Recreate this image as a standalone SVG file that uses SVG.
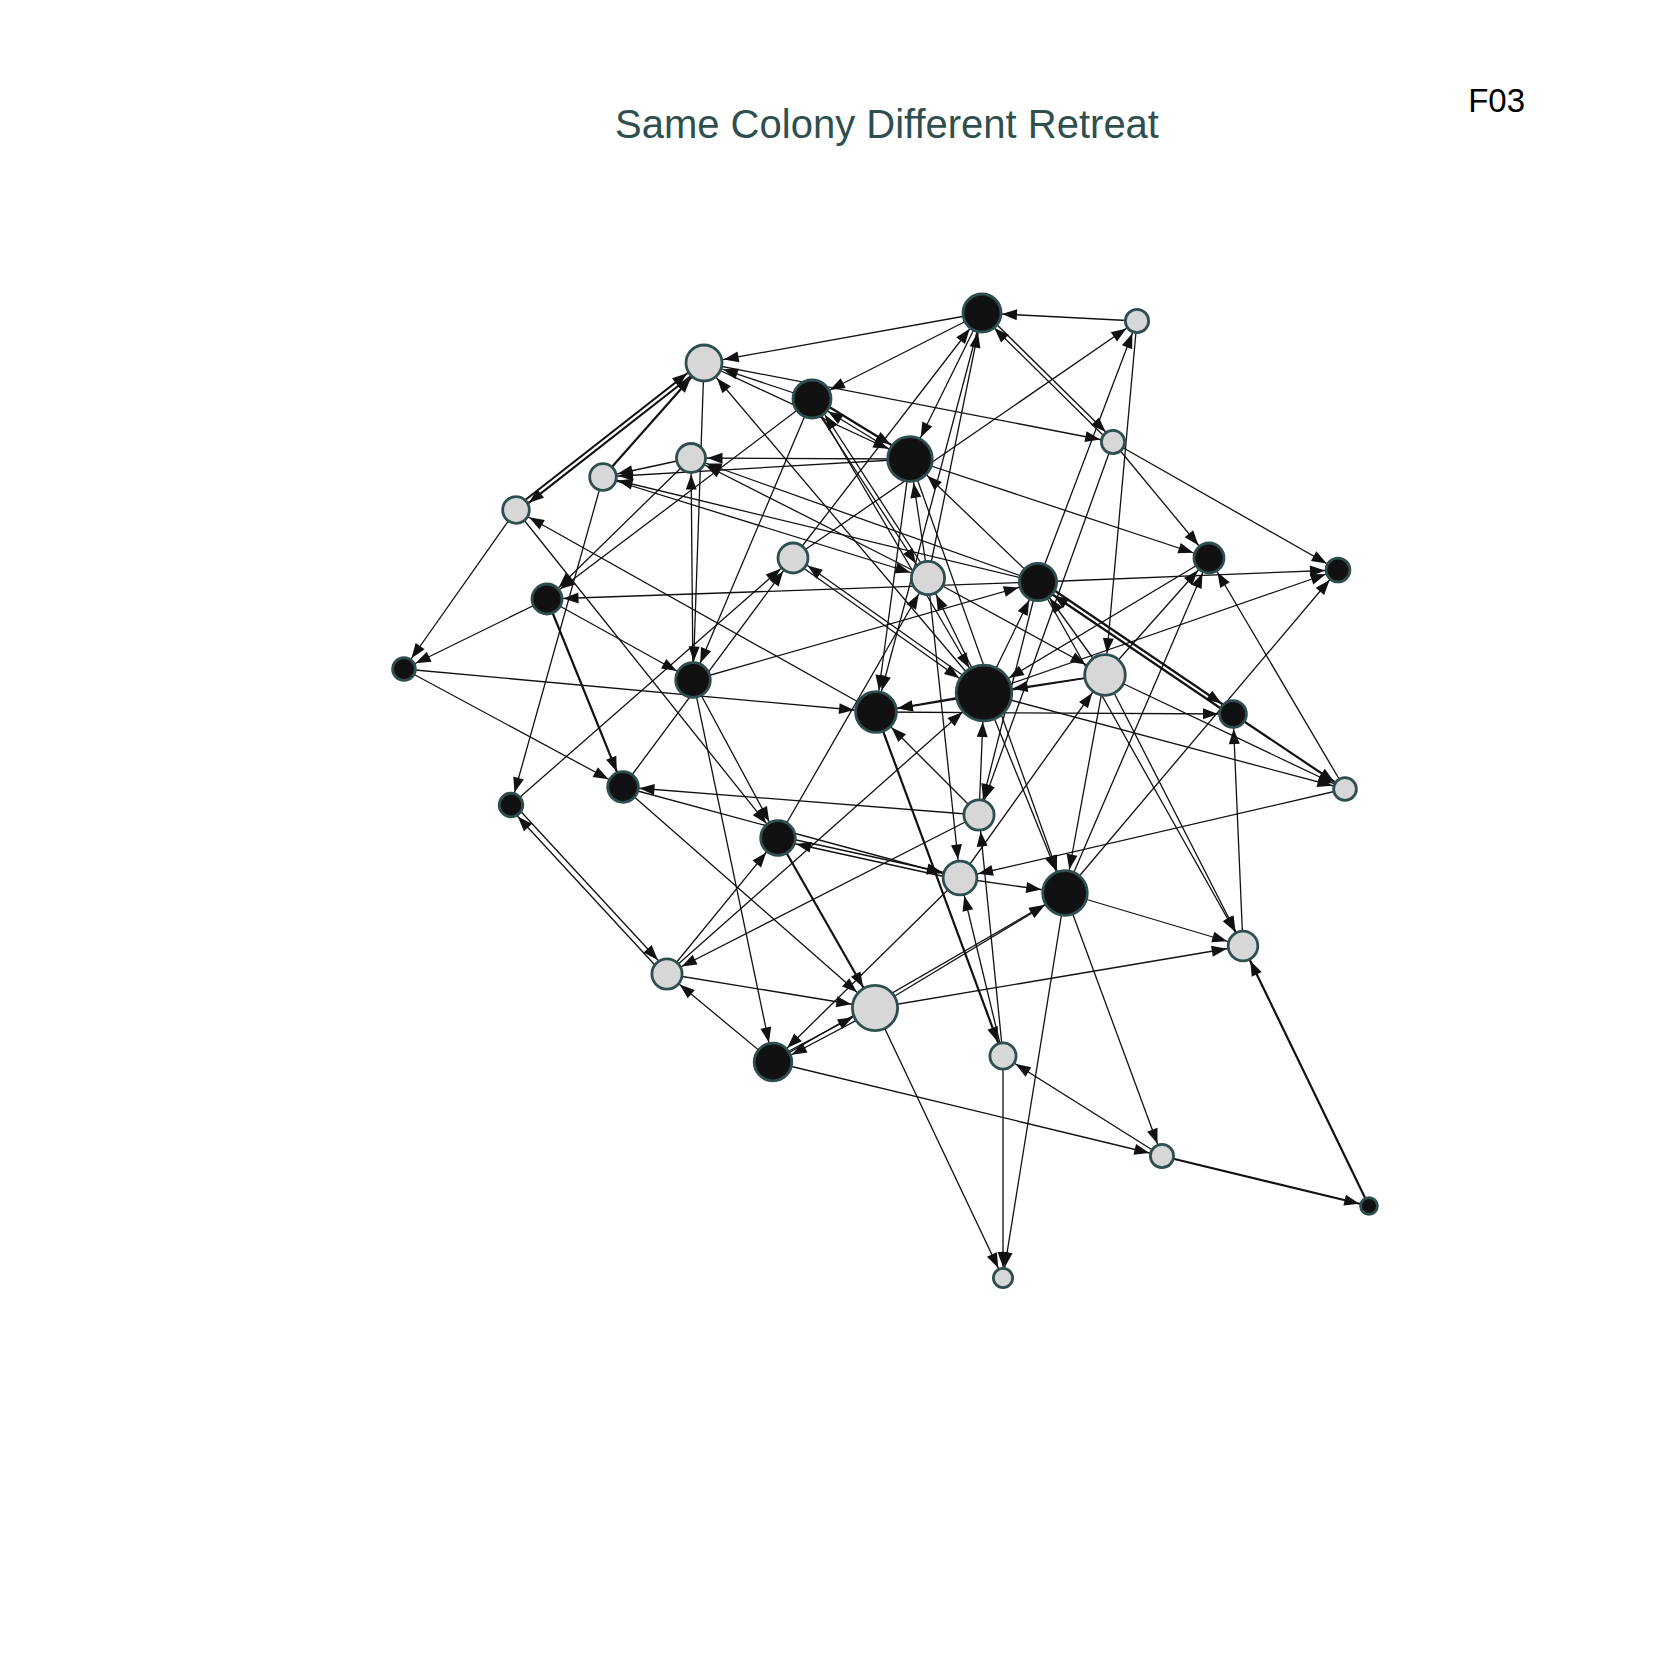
<svg xmlns="http://www.w3.org/2000/svg" width="1653" height="1653" viewBox="0 0 1653 1653">
<style>
.e{stroke:#111;stroke-width:1.3;fill:none}
.k{stroke-width:2.2}
.nd circle{stroke:#2f4f4f;stroke-width:2.8}
.d{fill:#111}
.l{fill:#d7d7d7}
.t{font-family:"Liberation Sans",Arial,sans-serif}
.ah{fill:#111}
</style>
<defs>
<marker id="m10" markerUnits="userSpaceOnUse" markerWidth="15" markerHeight="11" refX="25" refY="5.5" orient="auto" overflow="visible"><path class="ah" d="M0,0L15,5.5L0,11z"/></marker>
<marker id="m11" markerUnits="userSpaceOnUse" markerWidth="15" markerHeight="11" refX="26" refY="5.5" orient="auto" overflow="visible"><path class="ah" d="M0,0L15,5.5L0,11z"/></marker>
<marker id="m13" markerUnits="userSpaceOnUse" markerWidth="15" markerHeight="11" refX="28" refY="5.5" orient="auto" overflow="visible"><path class="ah" d="M0,0L15,5.5L0,11z"/></marker>
<marker id="m15" markerUnits="userSpaceOnUse" markerWidth="15" markerHeight="11" refX="30" refY="5.5" orient="auto" overflow="visible"><path class="ah" d="M0,0L15,5.5L0,11z"/></marker>
<marker id="m16" markerUnits="userSpaceOnUse" markerWidth="15" markerHeight="11" refX="31.5" refY="5.5" orient="auto" overflow="visible"><path class="ah" d="M0,0L15,5.5L0,11z"/></marker>
<marker id="m18" markerUnits="userSpaceOnUse" markerWidth="15" markerHeight="11" refX="33.5" refY="5.5" orient="auto" overflow="visible"><path class="ah" d="M0,0L15,5.5L0,11z"/></marker>
<marker id="m20" markerUnits="userSpaceOnUse" markerWidth="15" markerHeight="11" refX="35" refY="5.5" orient="auto" overflow="visible"><path class="ah" d="M0,0L15,5.5L0,11z"/></marker>
<marker id="m22" markerUnits="userSpaceOnUse" markerWidth="15" markerHeight="11" refX="37" refY="5.5" orient="auto" overflow="visible"><path class="ah" d="M0,0L15,5.5L0,11z"/></marker>
<marker id="m24" markerUnits="userSpaceOnUse" markerWidth="15" markerHeight="11" refX="39" refY="5.5" orient="auto" overflow="visible"><path class="ah" d="M0,0L15,5.5L0,11z"/></marker>
<marker id="m29" markerUnits="userSpaceOnUse" markerWidth="15" markerHeight="11" refX="44" refY="5.5" orient="auto" overflow="visible"><path class="ah" d="M0,0L15,5.5L0,11z"/></marker>
</defs>
<rect width="1653" height="1653" fill="#fff"/>
<text class="t" x="887" y="138" font-size="40" fill="#2f4f4f" text-anchor="middle">Same Colony Different Retreat</text>
<text class="t" x="1525" y="112" font-size="33" fill="#000" text-anchor="end">F03</text>
<g id="edges">
<line class="e" x1="1137" y1="321" x2="982" y2="313" marker-end="url(#m20)"/>
<line class="e" x1="982" y1="313" x2="704" y2="363" marker-end="url(#m20)"/>
<line class="e" x1="982" y1="313" x2="812" y2="399" marker-end="url(#m20)"/>
<line class="e" x1="982" y1="313" x2="910" y2="459" marker-end="url(#m24)"/>
<line class="e" x1="984" y1="312" x2="1115" y2="441" marker-end="url(#m13)"/>
<line class="e" x1="1111" y1="443" x2="980" y2="314" marker-end="url(#m20)"/>
<line class="e" x1="793" y1="558" x2="982" y2="313" marker-end="url(#m20)"/>
<line class="e" x1="928" y1="578" x2="982" y2="313" marker-end="url(#m20)"/>
<line class="e" x1="793" y1="558" x2="1137" y2="321" marker-end="url(#m13)"/>
<line class="e" x1="1038" y1="582" x2="1137" y2="321" marker-end="url(#m13)"/>
<line class="e" x1="1137" y1="321" x2="1105" y2="675" marker-end="url(#m22)"/>
<line class="e k" x1="705" y1="365" x2="517" y2="512" marker-end="url(#m15)"/>
<line class="e k" x1="515" y1="508" x2="703" y2="361" marker-end="url(#m20)"/>
<line class="e k" x1="603" y1="477" x2="704" y2="363" marker-end="url(#m20)"/>
<line class="e" x1="812" y1="399" x2="704" y2="363" marker-end="url(#m20)"/>
<line class="e" x1="984" y1="693" x2="704" y2="363" marker-end="url(#m20)"/>
<line class="e" x1="704" y1="363" x2="1113" y2="442" marker-end="url(#m13)"/>
<line class="e" x1="704" y1="363" x2="910" y2="459" marker-end="url(#m24)"/>
<line class="e" x1="704" y1="363" x2="693" y2="680" marker-end="url(#m18)"/>
<line class="e" x1="693" y1="680" x2="691" y2="458" marker-end="url(#m16)"/>
<line class="e" x1="910" y1="459" x2="691" y2="458" marker-end="url(#m16)"/>
<line class="e" x1="910" y1="459" x2="603" y2="477" marker-end="url(#m15)"/>
<line class="e" x1="691" y1="458" x2="603" y2="477" marker-end="url(#m15)"/>
<line class="e" x1="1038" y1="582" x2="603" y2="477" marker-end="url(#m15)"/>
<line class="e" x1="1038" y1="582" x2="691" y2="458" marker-end="url(#m16)"/>
<line class="e" x1="928" y1="578" x2="691" y2="458" marker-end="url(#m16)"/>
<line class="e" x1="603" y1="477" x2="928" y2="578" marker-end="url(#m18)"/>
<line class="e k" x1="813" y1="397" x2="911" y2="457" marker-end="url(#m24)"/>
<line class="e" x1="909" y1="461" x2="811" y2="401" marker-end="url(#m20)"/>
<line class="e" x1="812" y1="399" x2="547" y2="599" marker-end="url(#m16)"/>
<line class="e" x1="691" y1="458" x2="547" y2="599" marker-end="url(#m16)"/>
<line class="e" x1="812" y1="399" x2="693" y2="680" marker-end="url(#m18)"/>
<line class="e" x1="810" y1="400" x2="926" y2="579" marker-end="url(#m18)"/>
<line class="e" x1="930" y1="577" x2="814" y2="398" marker-end="url(#m20)"/>
<line class="e" x1="812" y1="399" x2="984" y2="693" marker-end="url(#m29)"/>
<line class="e" x1="792" y1="560" x2="983" y2="695" marker-end="url(#m29)"/>
<line class="e" x1="985" y1="691" x2="794" y2="556" marker-end="url(#m16)"/>
<line class="e" x1="603" y1="477" x2="511" y2="805" marker-end="url(#m13)"/>
<line class="e" x1="516" y1="510" x2="404" y2="669" marker-end="url(#m13)"/>
<line class="e" x1="547" y1="599" x2="404" y2="669" marker-end="url(#m13)"/>
<line class="e k" x1="547" y1="599" x2="623" y2="787" marker-end="url(#m16)"/>
<line class="e" x1="547" y1="599" x2="693" y2="680" marker-end="url(#m18)"/>
<line class="e" x1="1038" y1="582" x2="547" y2="599" marker-end="url(#m16)"/>
<line class="e" x1="876" y1="712" x2="516" y2="510" marker-end="url(#m15)"/>
<line class="e" x1="516" y1="510" x2="778" y2="838" marker-end="url(#m18)"/>
<line class="e" x1="404" y1="669" x2="876" y2="712" marker-end="url(#m22)"/>
<line class="e" x1="404" y1="669" x2="623" y2="787" marker-end="url(#m16)"/>
<line class="e" x1="513" y1="803" x2="669" y2="972" marker-end="url(#m16)"/>
<line class="e" x1="665" y1="976" x2="509" y2="807" marker-end="url(#m13)"/>
<line class="e" x1="511" y1="805" x2="793" y2="558" marker-end="url(#m16)"/>
<line class="e" x1="693" y1="680" x2="773" y2="1062" marker-end="url(#m20)"/>
<line class="e" x1="693" y1="680" x2="778" y2="838" marker-end="url(#m18)"/>
<line class="e" x1="693" y1="680" x2="1038" y2="582" marker-end="url(#m20)"/>
<line class="e" x1="623" y1="787" x2="793" y2="558" marker-end="url(#m16)"/>
<line class="e" x1="623" y1="787" x2="875" y2="1008" marker-end="url(#m24)"/>
<line class="e" x1="979" y1="815" x2="623" y2="787" marker-end="url(#m16)"/>
<line class="e" x1="623" y1="787" x2="960" y2="878" marker-end="url(#m18)"/>
<line class="e" x1="910" y1="459" x2="1209" y2="558" marker-end="url(#m16)"/>
<line class="e" x1="1113" y1="442" x2="1209" y2="558" marker-end="url(#m16)"/>
<line class="e" x1="1105" y1="675" x2="1209" y2="558" marker-end="url(#m16)"/>
<line class="e" x1="1065" y1="893" x2="1209" y2="558" marker-end="url(#m16)"/>
<line class="e" x1="1345" y1="789" x2="1209" y2="558" marker-end="url(#m16)"/>
<line class="e" x1="1209" y1="558" x2="984" y2="693" marker-end="url(#m29)"/>
<line class="e" x1="1038" y1="582" x2="1338" y2="570" marker-end="url(#m13)"/>
<line class="e" x1="1113" y1="442" x2="1338" y2="570" marker-end="url(#m13)"/>
<line class="e" x1="1065" y1="893" x2="1338" y2="570" marker-end="url(#m13)"/>
<line class="e" x1="984" y1="693" x2="1338" y2="570" marker-end="url(#m13)"/>
<line class="e k" x1="1039" y1="580" x2="1234" y2="712" marker-end="url(#m15)"/>
<line class="e k" x1="1232" y1="716" x2="1037" y2="584" marker-end="url(#m20)"/>
<line class="e" x1="1105" y1="675" x2="1038" y2="582" marker-end="url(#m20)"/>
<line class="e" x1="1038" y1="582" x2="910" y2="459" marker-end="url(#m24)"/>
<line class="e" x1="928" y1="578" x2="910" y2="459" marker-end="url(#m24)"/>
<line class="e" x1="1038" y1="582" x2="979" y2="815" marker-end="url(#m16)"/>
<line class="e" x1="984" y1="693" x2="1038" y2="582" marker-end="url(#m20)"/>
<line class="e" x1="928" y1="578" x2="1105" y2="675" marker-end="url(#m22)"/>
<line class="e" x1="984" y1="693" x2="928" y2="578" marker-end="url(#m18)"/>
<line class="e" x1="1105" y1="675" x2="984" y2="693" marker-end="url(#m29)"/>
<line class="e" x1="984" y1="693" x2="876" y2="712" marker-end="url(#m22)"/>
<line class="e" x1="1105" y1="675" x2="876" y2="712" marker-end="url(#m22)"/>
<line class="e" x1="910" y1="459" x2="876" y2="712" marker-end="url(#m22)"/>
<line class="e" x1="982" y1="313" x2="876" y2="712" marker-end="url(#m22)"/>
<line class="e" x1="876" y1="712" x2="1233" y2="714" marker-end="url(#m15)"/>
<line class="e" x1="979" y1="815" x2="984" y2="693" marker-end="url(#m29)"/>
<line class="e" x1="979" y1="815" x2="876" y2="712" marker-end="url(#m22)"/>
<line class="e" x1="1003" y1="1056" x2="979" y2="815" marker-end="url(#m16)"/>
<line class="e" x1="1003" y1="1056" x2="960" y2="878" marker-end="url(#m18)"/>
<line class="e k" x1="876" y1="712" x2="1003" y2="1056" marker-end="url(#m15)"/>
<line class="e" x1="1003" y1="1056" x2="1003" y2="1278" marker-end="url(#m11)"/>
<line class="e" x1="875" y1="1008" x2="1003" y2="1278" marker-end="url(#m11)"/>
<line class="e" x1="1065" y1="893" x2="1003" y2="1278" marker-end="url(#m11)"/>
<line class="e" x1="1065" y1="893" x2="1162" y2="1156" marker-end="url(#m13)"/>
<line class="e" x1="773" y1="1062" x2="1162" y2="1156" marker-end="url(#m13)"/>
<line class="e" x1="1162" y1="1156" x2="1003" y2="1056" marker-end="url(#m15)"/>
<line class="e k" x1="1162" y1="1156" x2="1369" y2="1206" marker-end="url(#m10)"/>
<line class="e k" x1="1369" y1="1206" x2="1243" y2="946" marker-end="url(#m16)"/>
<line class="e" x1="875" y1="1008" x2="1243" y2="946" marker-end="url(#m16)"/>
<line class="e" x1="1243" y1="946" x2="1233" y2="714" marker-end="url(#m15)"/>
<line class="e" x1="1065" y1="893" x2="1243" y2="946" marker-end="url(#m16)"/>
<line class="e" x1="1105" y1="675" x2="1243" y2="946" marker-end="url(#m16)"/>
<line class="e" x1="1038" y1="582" x2="1243" y2="946" marker-end="url(#m16)"/>
<line class="e" x1="1105" y1="675" x2="1065" y2="893" marker-end="url(#m24)"/>
<line class="e" x1="984" y1="693" x2="1065" y2="893" marker-end="url(#m24)"/>
<line class="e" x1="910" y1="459" x2="1065" y2="893" marker-end="url(#m24)"/>
<line class="e" x1="960" y1="878" x2="1065" y2="893" marker-end="url(#m24)"/>
<line class="e" x1="875" y1="1008" x2="1065" y2="893" marker-end="url(#m24)"/>
<line class="e" x1="773" y1="1062" x2="1065" y2="893" marker-end="url(#m24)"/>
<line class="e" x1="778" y1="836" x2="960" y2="876" marker-end="url(#m18)"/>
<line class="e" x1="960" y1="880" x2="778" y2="840" marker-end="url(#m18)"/>
<line class="e" x1="960" y1="878" x2="1105" y2="675" marker-end="url(#m22)"/>
<line class="e" x1="928" y1="578" x2="960" y2="878" marker-end="url(#m18)"/>
<line class="e" x1="1345" y1="789" x2="960" y2="878" marker-end="url(#m18)"/>
<line class="e" x1="984" y1="693" x2="1345" y2="789" marker-end="url(#m13)"/>
<line class="e k" x1="1233" y1="714" x2="1345" y2="789" marker-end="url(#m13)"/>
<line class="e" x1="1105" y1="675" x2="1345" y2="789" marker-end="url(#m13)"/>
<line class="e" x1="979" y1="815" x2="667" y2="974" marker-end="url(#m16)"/>
<line class="e" x1="667" y1="974" x2="984" y2="693" marker-end="url(#m29)"/>
<line class="e" x1="667" y1="974" x2="778" y2="838" marker-end="url(#m18)"/>
<line class="e" x1="667" y1="974" x2="875" y2="1008" marker-end="url(#m24)"/>
<line class="e" x1="773" y1="1062" x2="667" y2="974" marker-end="url(#m16)"/>
<line class="e" x1="772" y1="1060" x2="874" y2="1006" marker-end="url(#m24)"/>
<line class="e" x1="876" y1="1010" x2="774" y2="1064" marker-end="url(#m20)"/>
<line class="e k" x1="778" y1="838" x2="875" y2="1008" marker-end="url(#m24)"/>
<line class="e" x1="960" y1="878" x2="773" y2="1062" marker-end="url(#m20)"/>
<line class="e" x1="778" y1="838" x2="928" y2="578" marker-end="url(#m18)"/>
<line class="e" x1="1113" y1="442" x2="979" y2="815" marker-end="url(#m16)"/>
</g>
<g id="nodes" class="nd">
<g id="n-A"><circle cx="704" cy="363" r="18" class="l"/></g>
<g id="n-B"><circle cx="691" cy="458" r="14.5" class="l"/></g>
<g id="n-C"><circle cx="603" cy="477" r="13.3" class="l"/></g>
<g id="n-D"><circle cx="516" cy="510" r="13.3" class="l"/></g>
<g id="n-E"><circle cx="547" cy="599" r="15" class="d"/></g>
<g id="n-F"><circle cx="982" cy="313" r="19" class="d"/></g>
<g id="n-G"><circle cx="812" cy="399" r="19" class="d"/></g>
<g id="n-H"><circle cx="910" cy="459" r="22.3" class="d"/></g>
<g id="n-I"><circle cx="793" cy="558" r="15" class="l"/></g>
<g id="n-J"><circle cx="928" cy="578" r="16.6" class="l"/></g>
<g id="n-K"><circle cx="1038" cy="582" r="18.6" class="d"/></g>
<g id="n-L"><circle cx="1137" cy="321" r="11.6" class="l"/></g>
<g id="n-M"><circle cx="1113" cy="442" r="11.6" class="l"/></g>
<g id="n-N"><circle cx="1209" cy="558" r="15" class="d"/></g>
<g id="n-O"><circle cx="1338" cy="570" r="11.9" class="d"/></g>
<g id="n-P"><circle cx="404" cy="669" r="11.4" class="d"/></g>
<g id="n-Q"><circle cx="693" cy="680" r="17.3" class="d"/></g>
<g id="n-R"><circle cx="623" cy="787" r="15.3" class="d"/></g>
<g id="n-S"><circle cx="511" cy="805" r="11.8" class="d"/></g>
<g id="n-T"><circle cx="876" cy="712" r="20.4" class="d"/></g>
<g id="n-U"><circle cx="984" cy="693" r="27.8" class="d"/></g>
<g id="n-V"><circle cx="979" cy="815" r="15.1" class="l"/></g>
<g id="n-W"><circle cx="778" cy="838" r="17.3" class="d"/></g>
<g id="n-X"><circle cx="960" cy="878" r="16.9" class="l"/></g>
<g id="n-Y"><circle cx="1065" cy="893" r="22.3" class="d"/></g>
<g id="n-Z"><circle cx="1105" cy="675" r="20.3" class="l"/></g>
<g id="n-AA"><circle cx="1233" cy="714" r="13.4" class="d"/></g>
<g id="n-AB"><circle cx="1345" cy="789" r="11.4" class="l"/></g>
<g id="n-AC"><circle cx="1243" cy="946" r="14.8" class="l"/></g>
<g id="n-AD"><circle cx="667" cy="974" r="15.1" class="l"/></g>
<g id="n-AE"><circle cx="875" cy="1008" r="22.6" class="l"/></g>
<g id="n-AF"><circle cx="773" cy="1062" r="18.8" class="d"/></g>
<g id="n-AG"><circle cx="1003" cy="1056" r="13.1" class="l"/></g>
<g id="n-AH"><circle cx="1162" cy="1156" r="11.6" class="l"/></g>
<g id="n-AI"><circle cx="1369" cy="1206" r="8.4" class="d"/></g>
<g id="n-AJ"><circle cx="1003" cy="1278" r="9.6" class="l"/></g>
</g>
</svg>
